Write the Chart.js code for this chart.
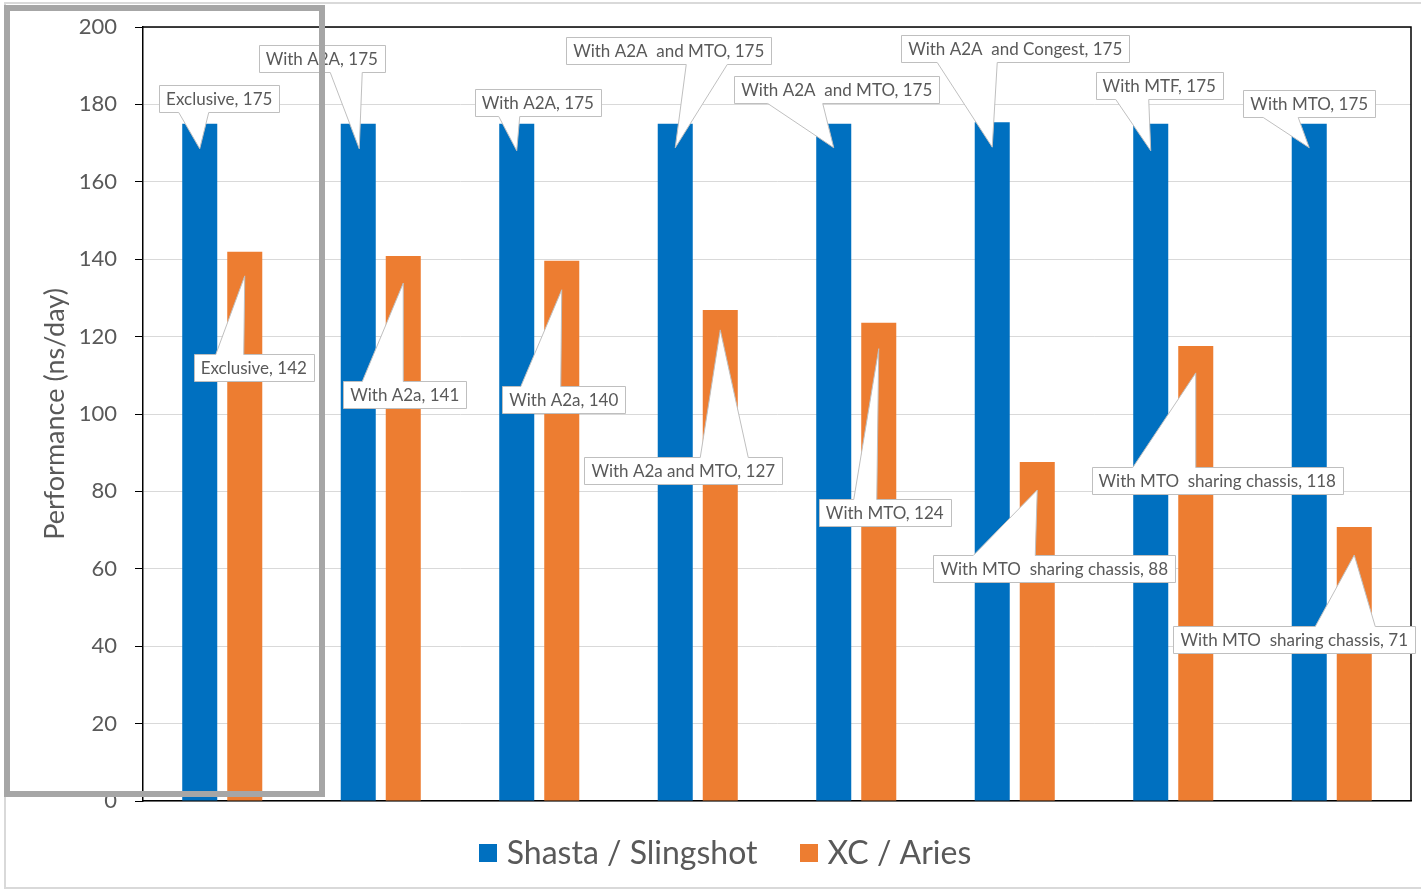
<!DOCTYPE html>
<html>
<head>
<meta charset="utf-8">
<script src="https://cdn.jsdelivr.net/npm/chart.js@4.4.1/dist/chart.umd.min.js"></script>
<style>
  html, body { margin: 0; background: #fff; }
  canvas { display: block; }
</style>
</head>
<body>
<canvas id="perf" width="1421" height="891"></canvas>
<script>
// data
const categories = ["Exclusive", "A2A", "A2A", "A2A + MTO", "A2A + MTO", "A2A + Congest", "MTF / MTO sharing", "MTO / MTO sharing"];
const shasta = [175, 175, 175, 175, 175, 175.4, 175, 175];
const xcAries = [141.9, 140.8, 139.6, 126.9, 123.6, 87.6, 117.6, 70.8];
const shastaNotes = ["Exclusive", "With A2A", "With A2A", "With A2A  and MTO", "With A2A  and MTO", "With A2A  and Congest", "With MTF", "With MTO"];
const xcNotes = ["Exclusive", "With A2a", "With A2a", "With A2a and MTO", "With MTO", "With MTO  sharing chassis", "With MTO  sharing chassis", "With MTO  sharing chassis"];
const yTicks = [0, 20, 40, 60, 80, 100, 120, 140, 160, 180, 200];

const blue = "#0070C0";
const orange = "#ED7D31";
const textGrey = "#595959";

// callout placement, relative to the top centre of each bar
const shastaCallouts = [
  { dx: 19.5, dy: -25, tip: [0, 25], base: [-21, 9] },
  { dx: -36.5, dy: -65.5, tip: [1, 25], base: [-28, 4] },
  { dx: 21, dy: -21, tip: [0, 27], base: [-18, 3] },
  { dx: -6.5, dy: -73.5, tip: [0, 24], base: [11, 52] },
  { dx: 3, dy: -34.5, tip: [0, 24], base: [-66, -11] },
  { dx: 23, dy: -73.5, tip: [0, 25], base: [-55, 5] },
  { dx: 8.5, dy: -38, tip: [0, 27], base: [-35, -2] },
  { dx: 0, dy: -20.5, tip: [0, 24], base: [-46, -11] },
];
const xcCallouts = [
  { dx: 9, dy: 116, tip: [0, 24], base: [-29, -1] },
  { dx: 1.5, dy: 138, tip: [0, 27], base: [-41, 0] },
  { dx: 2, dy: 138.5, tip: [0, 29], base: [-41, -1] },
  { dx: -37, dy: 160.5, tip: [0, 20], base: [-20, 28] },
  { dx: 6, dy: 189.5, tip: [0, 26], base: [-25, -2] },
  { dx: 17, dy: 106.5, tip: [0, 28], base: [-64, -2] },
  { dx: 21.5, dy: 134.5, tip: [0, 27], base: [-63, 0] },
  { dx: -60, dy: 112.5, tip: [0, 28], base: [-39, 21] },
];

function drawCallout(ctx, bar, text, pos) {
  ctx.font = "17px Lato";
  const w = ctx.measureText(text).width + 14;
  const h = 27;
  const cx = bar.x + pos.dx;
  const cy = bar.y + pos.dy;
  const l = Math.round(cx - w / 2) + 0.5;
  const r = Math.round(cx + w / 2) + 0.5;
  const t = Math.round(cy - h / 2) + 0.5;
  const b = Math.round(cy + h / 2) + 0.5;
  const tx = bar.x + pos.tip[0];
  const ty = bar.y + pos.tip[1];
  const b1 = bar.x + pos.base[0];
  const b2 = bar.x + pos.base[1];

  ctx.beginPath();
  if (ty > b) {
    ctx.moveTo(l, t);
    ctx.lineTo(r, t);
    ctx.lineTo(r, b);
    ctx.lineTo(b2, b);
    ctx.lineTo(tx, ty);
    ctx.lineTo(b1, b);
    ctx.lineTo(l, b);
  } else {
    ctx.moveTo(l, t);
    ctx.lineTo(b1, t);
    ctx.lineTo(tx, ty);
    ctx.lineTo(b2, t);
    ctx.lineTo(r, t);
    ctx.lineTo(r, b);
    ctx.lineTo(l, b);
  }
  ctx.closePath();
  ctx.fillStyle = "#fff";
  ctx.fill();
  ctx.lineWidth = 1;
  ctx.strokeStyle = "#bfbfbf";
  ctx.stroke();

  ctx.fillStyle = textGrey;
  ctx.textAlign = "center";
  ctx.textBaseline = "middle";
  ctx.fillText(text, cx, cy + 1);
}

function drawLegend(chart) {
  const { ctx } = chart;
  const box = 18, gap = 10, between = 42, centreX = 725, centreY = 853;
  ctx.font = "32px Lato";
  const items = chart.data.datasets.map((ds) => ({
    text: ds.label,
    color: ds.backgroundColor,
    w: box + gap + ctx.measureText(ds.label).width,
  }));
  const total = items.reduce((s, it) => s + it.w, 0) + between * (items.length - 1);
  let x = centreX - total / 2;
  ctx.textAlign = "left";
  ctx.textBaseline = "middle";
  items.forEach((it) => {
    ctx.fillStyle = it.color;
    ctx.fillRect(Math.round(x), centreY - box / 2, box, box);
    ctx.fillStyle = textGrey;
    ctx.fillText(it.text, x + box + gap, centreY + 1);
    x += it.w + between;
  });
}

const decorations = {
  id: "decorations",
  beforeDatasetsDraw(chart) {
    const { ctx, chartArea } = chart;
    ctx.save();
    // top and right edge of the plot frame
    ctx.strokeStyle = "#000";
    ctx.lineWidth = 1.5;
    ctx.beginPath();
    ctx.moveTo(chartArea.left, chartArea.top);
    ctx.lineTo(chartArea.right, chartArea.top);
    ctx.lineTo(chartArea.right, chartArea.bottom);
    ctx.stroke();
    ctx.restore();
  },
  afterDatasetsDraw(chart) {
    const { ctx } = chart;
    ctx.save();
    const sets = [
      [shasta, shastaNotes, shastaCallouts],
      [xcAries, xcNotes, xcCallouts],
    ];
    sets.forEach(([values, notes, places], d) => {
      const meta = chart.getDatasetMeta(d);
      meta.data.forEach((bar, i) => {
        drawCallout(ctx, bar, `${notes[i]}, ${Math.round(values[i])}`, places[i]);
      });
    });
    ctx.restore();
  },
  afterDraw(chart) {
    const { ctx } = chart;
    ctx.save();
    drawLegend(chart);
    // outer frame of the chart object
    ctx.strokeStyle = "#d9d9d9";
    ctx.lineWidth = 2;
    ctx.strokeRect(5, 3, 1430, 885);
    // highlight box round the first group
    ctx.strokeStyle = "#a6a6a6";
    ctx.lineWidth = 6;
    ctx.strokeRect(7, 8, 315, 786);
    ctx.restore();
  },
};

new Chart(document.getElementById("perf"), {
  type: "bar",
  data: {
    labels: categories,
    datasets: [
      {
        label: "Shasta / Slingshot",
        data: shasta,
        backgroundColor: blue,
        borderWidth: 0,
      },
      {
        label: "XC / Aries",
        data: xcAries,
        backgroundColor: orange,
        borderWidth: 0,
      },
    ],
  },
  options: {
    responsive: false,
    animation: false,
    categoryPercentage: 0.568,
    barPercentage: 0.778,
    layout: {
      padding: { top: 27, right: 10, left: 0, bottom: 90 },
    },
    scales: {
      x: {
        ticks: { display: false },
        grid: { display: false },
        border: { color: "#000", width: 1.5 },
        afterFit: (scale) => {
          scale.height = 0;
        },
      },
      y: {
        min: 0,
        max: 200,
        afterBuildTicks: (scale) => {
          scale.ticks = yTicks.map((value) => ({ value }));
        },
        afterFit: (scale) => {
          scale.width = 143;
          scale.paddingTop = 0;
          scale.paddingBottom = 0;
        },
        ticks: {
          color: textGrey,
          font: { family: "Lato", size: 22 },
          padding: 18,
        },
        grid: {
          color: "#d9d9d9",
          tickColor: "#000",
          tickLength: 8,
          lineWidth: 1,
        },
        border: { color: "#000", width: 1.5 },
        title: {
          display: true,
          text: "Performance (ns/day)",
          color: textGrey,
          font: { family: "Lato", size: 27 },
          padding: { top: 39 },
        },
      },
    },
    plugins: {
      legend: { display: false },
      tooltip: { enabled: false },
    },
  },
  plugins: [decorations],
});
</script>
</body>
</html>
